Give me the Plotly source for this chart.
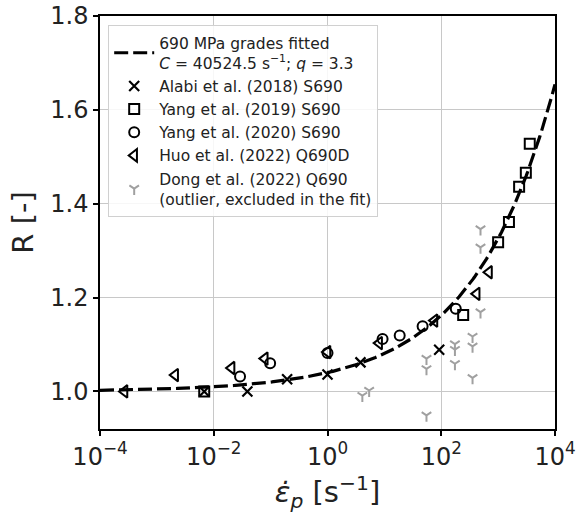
import numpy as np
import plotly.graph_objects as go

# Cowper-Symonds fit for 690 MPa grades
C_FIT = 40524.5
Q_FIT = 3.3

# Alabi et al. (2018) S690
alabi_rate = [0.0068, 0.039, 0.195, 1.0, 3.8, 92.0]
alabi_R = [1.000, 1.000, 1.026, 1.036, 1.062, 1.089]

# Yang et al. (2019) S690
yang19_rate = [0.0068, 243.0, 1000.0, 1550.0, 2340.0, 3070.0, 3600.0]
yang19_R = [1.000, 1.163, 1.318, 1.361, 1.436, 1.466, 1.528]

# Yang et al. (2020) S690
yang20_rate = [0.029, 0.098, 1.0, 9.3, 18.6, 47.0, 180.0]
yang20_R = [1.032, 1.060, 1.082, 1.112, 1.119, 1.139, 1.176]

# Huo et al. (2022) Q690D
huo_rate = [2.7e-4, 0.0021, 0.0206, 0.079, 1.0, 8.1, 76.0, 420.0, 692.0]
huo_R = [1.000, 1.035, 1.050, 1.070, 1.084, 1.103, 1.151, 1.208, 1.254]

# Dong et al. (2022) Q690 (outlier)
dong_rate = [4.1, 5.4, 55.0, 55.0, 55.0, 174.0, 174.0, 174.0, 355.0, 355.0, 355.0, 490.0, 490.0, 490.0]
dong_R = [0.991, 1.002, 1.070, 1.048, 0.949, 1.101, 1.089, 1.059, 1.117, 1.096, 1.029, 1.346, 1.307, 1.169]

x_tickvals = [1e-4, 1e-2, 1e0, 1e2, 1e4]
x_ticktext = ["10<sup>\u22124</sup>", "10<sup>\u22122</sup>", "10<sup>0</sup>", "10<sup>2</sup>", "10<sup>4</sup>"]
y_tickvals = [1.0, 1.2, 1.4, 1.6, 1.8]
y_ticktext = ["1.0", "1.2", "1.4", "1.6", "1.8"]

FONT = "DejaVu Sans"
TXT = "#222222"

rate_fit = np.logspace(-4, 4, 300)
R_fit = 1.0 + (rate_fit / C_FIT) ** (1.0 / Q_FIT)

fig = go.Figure()

fig.add_trace(go.Scatter(
    x=rate_fit, y=R_fit, mode="lines",
    line=dict(color="black", width=3.2, dash="14px,5px"),
    name=f"690 MPa grades fitted<br><i>C</i> = {C_FIT} s<sup>\u22121</sup>; <i>q</i> = {Q_FIT}",
))

marker_line = dict(color="black", width=2)
fig.add_trace(go.Scatter(
    x=alabi_rate, y=alabi_R, mode="markers", name="Alabi et al. (2018) S690",
    marker=dict(symbol="x-thin-open", size=10, color="black", line=dict(color="black", width=2.2)),
))
fig.add_trace(go.Scatter(
    x=yang19_rate, y=yang19_R, mode="markers", name="Yang et al. (2019) S690",
    marker=dict(symbol="square-open", size=10, color="black", line=marker_line),
))
fig.add_trace(go.Scatter(
    x=yang20_rate, y=yang20_R, mode="markers", name="Yang et al. (2020) S690",
    marker=dict(symbol="circle-open", size=10, color="black", line=marker_line),
))
fig.add_trace(go.Scatter(
    x=huo_rate, y=huo_R, mode="markers", name="Huo et al. (2022) Q690D",
    marker=dict(symbol="triangle-left-open", size=11, color="black", line=marker_line),
))
fig.add_trace(go.Scatter(
    x=dong_rate, y=dong_R, mode="markers",
    name="Dong et al. (2022) Q690<br>(outlier, excluded in the fit)",
    marker=dict(symbol="y-down-open", size=8, color="#a0a0a0", line=dict(color="#a0a0a0", width=2)),
))

axis_common = dict(
    showline=True, linecolor="black", linewidth=1.5, mirror=True,
    ticks="outside", ticklen=5, tickwidth=1.5, tickcolor="black",
    showgrid=True, gridcolor="#c8c8c8", gridwidth=1.2,
    zeroline=False, automargin=False,
    tickfont=dict(family=FONT, size=24, color=TXT),
)

fig.update_xaxes(
    type="log", range=[-4, 4],
    tickvals=x_tickvals, ticktext=x_ticktext,
    title=dict(text="<i>\u03b5\u0307</i><sub><i>p</i></sub> [s<sup>\u22121</sup>]",
               font=dict(family=FONT, size=29, color=TXT), standoff=11),
    **axis_common,
)
fig.update_yaxes(
    range=[0.92, 1.8],
    tickvals=y_tickvals, ticktext=y_ticktext,
    title=dict(text="R [-]", font=dict(family=FONT, size=29, color=TXT), standoff=8),
    **axis_common,
)

fig.update_layout(
    width=581, height=520,
    margin=dict(l=100, r=26, t=16, b=91),
    paper_bgcolor="white", plot_bgcolor="white",
    font=dict(family=FONT, color=TXT),
    showlegend=True,
    legend=dict(
        x=0.018, y=0.978, xanchor="left", yanchor="top",
        bgcolor="rgba(255,255,255,0.85)", bordercolor="#d0d0d0", borderwidth=1,
        font=dict(family=FONT, size=15.5, color=TXT),
        tracegroupgap=0, itemwidth=40,
    ),
)

fig.write_html("out.html")
